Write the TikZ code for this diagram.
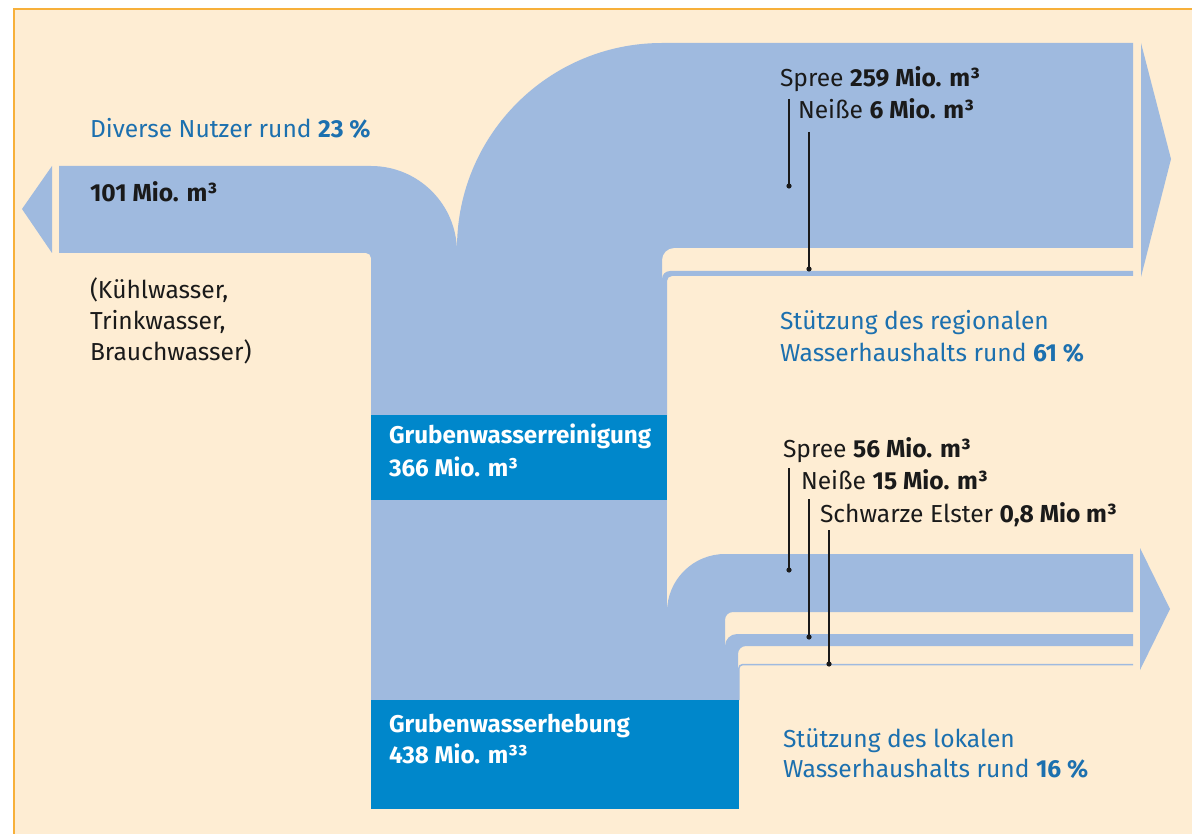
\documentclass[tikz,border=0pt]{standalone}
\usepackage{fontspec}
\setmainfont{Fira Sans}
\definecolor{cream}{HTML}{FEEDD3}
\definecolor{flowblue}{HTML}{9FBADF}
\definecolor{boxblue}{HTML}{0087CB}
\definecolor{txtblue}{HTML}{1C70AF}
\definecolor{frameorange}{HTML}{F7B03A}
\definecolor{txtblack}{HTML}{1A1A1A}
\begin{document}
\begin{tikzpicture}[x=1pt,y=-1pt,
  flow/.style={fill=flowblue,draw=none},
  boxfill/.style={fill=boxblue,draw=none},
  txt/.style={anchor=base west,inner sep=0pt,outer sep=0pt,font=\fontsize{24.6}{29}\selectfont},
  bluetxt/.style={txt,text=txtblue},
  blacktxt/.style={txt,text=txtblack},
  whitetxt/.style={txt,text=white,font=\fontsize{24.2}{29}\selectfont\bfseries},
  leader/.style={line width=1.3pt,txtblack},
  dotmark/.style={fill=txtblack}]
\useasboundingbox (0,0) rectangle (1192,834);
% background
\fill[white] (0,0) rectangle (1192,834);
\fill[cream] (14,9) rectangle (1192,834);
\draw[frameorange,line width=1.5pt] (14,834) -- (14,9) -- (1192,9);

% trunk between boxes
\fill[flow] (371,415) rectangle (667,700);
% left flow: Diverse Nutzer
\fill[flow] (59,166) -- (371,166) arc[start angle=-90,end angle=0,radius=86]
  -- (457,420) -- (371,420) -- (371,258) arc[start angle=0,end angle=-90,radius=5]
  -- (59,253) -- cycle;
\fill[flow] (52,166) -- (22,209) -- (52,253) -- cycle;
% big flow: Spree 259
\fill[flow] (457,420) -- (457,248) arc[start angle=180,end angle=270,radius=205]
  -- (1133,43) -- (1133,248) -- (674,248) arc[start angle=270,end angle=180,radius=12]
  -- (662,420) -- cycle;
% thin flow: Neisse 6
\fill[flow] (662,420) -- (662,279) arc[start angle=180,end angle=270,radius=8]
  -- (1133,271) -- (1133,276) -- (672,276) arc[start angle=270,end angle=180,radius=5]
  -- (667,420) -- cycle;
\fill[flow] (1141,43) -- (1171,159) -- (1141,277) -- cycle;
% local flows
\fill[flow] (667,700) -- (667,612) arc[start angle=180,end angle=270,radius=58]
  -- (1133,554) -- (1133,612) -- (733,612) arc[start angle=270,end angle=180,radius=8]
  -- (725,700) -- cycle;
\fill[flow] (725,700) -- (725,646) arc[start angle=180,end angle=270,radius=12]
  -- (1133,634) -- (1133,646) -- (746,646) arc[start angle=270,end angle=180,radius=8]
  -- (738,700) -- cycle;
\draw[flowblue,line width=1.5pt] (738.8,700) -- (738.8,668.5) arc[start angle=180,end angle=270,radius=4]
  -- (1133,664.5);
\fill[flow] (1140,548) -- (1170,609) -- (1140,670) -- cycle;

% boxes
\fill[boxfill] (371,415) rectangle (667,500);
\fill[boxfill] (371,700) rectangle (739,809);
\node[whitetxt] (rein1) at (389,443) {Grubenwasserreinigung};
\node[whitetxt] (rein2) at (389,476) {366 Mio. m³};
\node[whitetxt] (heb1) at (389,732) {Grubenwasserhebung};
\node[whitetxt] (heb2) at (389,763) {438 Mio. m³³};

% left texts
\node[bluetxt] (nutzer) at (90,138) {Diverse Nutzer rund \textbf{23 \%}};
\node[blacktxt,font=\fontsize{24.6}{29}\selectfont\bfseries] (mio101) at (90,202) {101 Mio. m³};
\node[blacktxt] (kuehl1) at (90,299) {(Kühlwasser,};
\node[blacktxt] (kuehl2) at (90,330) {Trinkwasser,};
\node[blacktxt] (kuehl3) at (90,361) {Brauchwasser)};

% regional
\node[bluetxt] (reg1) at (780,330) {Stützung des regionalen};
\node[bluetxt] (reg2) at (780,362) {Wasserhaushalts rund \textbf{61 \%}};
% local
\node[bluetxt] (lok1) at (783,747) {Stützung des lokalen};
\node[bluetxt] (lok2) at (783,777) {Wasserhaushalts rund \textbf{16 \%}};

% top labels
\node[blacktxt] (spreeA) at (780,87) {Spree \textbf{259 Mio. m³}};
\node[blacktxt] (neisseA) at (798,119) {Neiße \textbf{6 Mio. m³}};
\coordinate (spreeAtop) at (789,99);
\coordinate (spreeAdot) at (789,186);
\coordinate (neisseAtop) at (809,132);
\coordinate (neisseAdot) at (809,269);
\draw[leader] (spreeAtop) -- (spreeAdot);
\draw[leader] (neisseAtop) -- (neisseAdot);
\fill[dotmark] (spreeAdot) circle (2.6);
\fill[dotmark] (neisseAdot) circle (2.6);

% lower labels
\node[blacktxt] (spreeB) at (783,457) {Spree \textbf{56 Mio. m³}};
\node[blacktxt] (neisseB) at (801,489) {Neiße \textbf{15 Mio. m³}};
\node[blacktxt] (elster) at (820,522) {Schwarze Elster \textbf{0,8 Mio m³}};
\coordinate (spreeBtop) at (789,468);
\coordinate (spreeBdot) at (789,570);
\coordinate (neisseBtop) at (809,499);
\coordinate (neisseBdot) at (809,637);
\coordinate (elsterTop) at (829,530);
\coordinate (elsterDot) at (829,664);
\draw[leader] (spreeBtop) -- (spreeBdot);
\draw[leader] (neisseBtop) -- (neisseBdot);
\draw[leader] (elsterTop) -- (elsterDot);
\fill[dotmark] (spreeBdot) circle (2.6);
\fill[dotmark] (neisseBdot) circle (2.6);
\fill[dotmark] (elsterDot) circle (2.6);
\end{tikzpicture}
\end{document}
